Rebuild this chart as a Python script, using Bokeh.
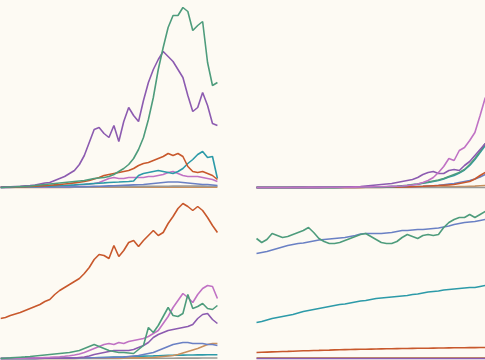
from bokeh.plotting import figure
from bokeh.layouts import gridplot
from bokeh.models import Range1d, GlobalInlineStyleSheet
from bokeh.embed import file_html
from bokeh.resources import INLINE

BG = "#fdfaf3"
COLORS = {
    "gray": "#9c9a96", "tan": "#c8905e", "blue": "#6a80c4", "pink": "#c072c4",
    "teal": "#2c9aa8", "orange": "#c8582c", "purple": "#8c5bb0", "green": "#4e9c7c",
}

steps = list(range(45))

# ---- top-left panel ----
tl_tan = [0.1, 0.1, 0.1, 0.1, 0.1, 0.1, 0.1, 0.1, 0.1, 0.1, 0.1, 0.1, 0.1, 0.1, 0.1,
          0.2, 0.2, 0.2, 0.2, 0.2, 0.2, 0.2, 0.2, 0.2, 0.2, 0.3, 0.3, 0.3, 0.3, 0.3,
          0.3, 0.3, 0.3, 0.3, 0.4, 0.4, 0.4, 0.4, 0.4, 0.4, 0.4, 0.4, 0.4, 0.4, 0.4]
tl_gray = [0.3, 0.3, 0.3, 0.3, 0.3, 0.4, 0.4, 0.4, 0.4, 0.4, 0.5, 0.5, 0.5, 0.5, 0.5,
           0.6, 0.6, 0.6, 0.6, 0.7, 0.7, 0.7, 0.8, 0.8, 0.8, 0.9, 0.9, 1, 1, 1.1,
           1.1, 1.2, 1.2, 1.3, 1.3, 1.4, 1.4, 1.5, 1.5, 1.5, 1.4, 1.4, 1.3, 1.3, 1.2]
tl_blue = [0.1, 0.1, 0.1, 0.2, 0.2, 0.2, 0.3, 0.3, 0.3, 0.4, 0.4, 0.5, 0.5, 0.6, 0.6,
           0.7, 0.8, 0.9, 1, 1.1, 1.2, 1.4, 1.6, 1.8, 2, 2.2, 2.4, 2.6, 2.8, 3,
           3.5, 4, 4.5, 5, 5.5, 5.5, 5.5, 5, 4.5, 4, 3.5, 3, 3, 2.5, 2]
tl_pink = [0.1, 0.15, 0.2, 0.3, 0.4, 0.5, 0.6, 0.7, 0.8, 0.9, 1, 1.2, 1.4, 1.7, 2,
           2.3, 2.7, 3, 3.5, 4, 5, 7, 9, 10, 9, 9, 10, 10, 10, 10,
           11, 11, 12, 13, 15, 16, 14, 12, 11, 11, 11, 10, 9, 8, 6]
tl_teal = [0.1, 0.2, 0.3, 0.4, 0.5, 0.6, 0.7, 0.8, 1, 1.2, 1.4, 1.6, 1.8, 2, 2.3,
           2.6, 3, 3.3, 3.6, 4, 4.3, 4.6, 5, 5.3, 5.5, 5.8, 6, 6.5, 12, 14,
           15, 16, 17, 16, 15, 14, 16, 19, 24, 28, 33, 36, 30, 31, 9]
tl_orange = [0.2, 0.3, 0.4, 0.5, 0.7, 0.9, 1.1, 1.3, 1.6, 1.9, 2.2, 2.6, 3, 3.5, 4,
             4.6, 5.2, 6, 7, 8.5, 10, 12, 13, 14, 15, 16, 17, 19, 22, 24,
             25, 27, 29, 31, 34, 32, 34, 31, 21, 16, 15, 16, 14, 12, 8]
tl_purple = [0.3, 0.5, 0.7, 1, 1.3, 1.7, 2, 2.5, 3.5, 4.5, 5, 7, 9, 11, 14,
             17, 23, 32, 45, 58, 60, 54, 50, 62, 46, 66, 80, 72, 66, 87,
             105, 118, 128, 136, 131, 126, 118, 110, 92, 76, 80, 95, 82, 64, 62]
tl_green = [0, 0.3, 0.5, 0.7, 1, 1.2, 1.5, 2, 2.5, 3, 3.5, 4, 4.5, 5, 5.5,
            6, 6.5, 7, 8, 9, 9.5, 10, 11, 13, 16, 19, 23, 29, 38, 50,
            68, 90, 118, 140, 160, 172, 172, 180, 176, 157, 162, 166, 125, 102, 105]

# ---- top-right panel ----
tr_gray = [0, 0, 0, 0, 0, 0, 0, 0, 0, 0, 0, 0, 0, 0, 0, 0, 0, 0, 0, 0, 0, 0, 0,
           0, 0, 0, 0, 0, 0, 0, 0, 0, 0, 0, 0, 0, 0, 0, 0, 0, 0, 0, 0, 0, 0]
tr_tan = [0, 0, 0, 0, 0, 0, 0, 0, 0, 0, 0, 0, 0, 0, 0, 0, 0, 0, 0, 0, 0.1, 0.1, 0.1,
          0.1, 0.1, 0.2, 0.2, 0.2, 0.2, 0.3, 0.3, 0.3, 0.4, 0.4, 0.5, 0.5, 0.6, 0.7,
          0.8, 0.9, 1, 1.2, 1.4, 1.7, 2]
tr_blue = [0, 0, 0, 0, 0, 0, 0, 0, 0, 0, 0, 0, 0, 0, 0,
           0.1, 0.1, 0.1, 0.1, 0.1, 0.2, 0.2, 0.2, 0.3, 0.3, 0.4, 0.4, 0.5, 0.6, 0.7,
           0.8, 1, 1.2, 1.5, 1.8, 2.2, 2.8, 3.4, 4, 5, 6, 7, 8.5, 10.5, 13]
tr_orange = [0, 0, 0, 0, 0, 0, 0, 0, 0, 0, 0, 0, 0, 0, 0,
             0, 0.1, 0.1, 0.1, 0.1, 0.1, 0.2, 0.2, 0.2, 0.3, 0.3, 0.4, 0.4, 0.5, 0.6,
             0.8, 1, 1.2, 1.5, 1.8, 2, 2.3, 2.6, 3, 4, 5, 6, 8.5, 12, 15]
tr_teal = [0, 0, 0, 0, 0, 0, 0, 0, 0, 0, 0, 0, 0.1, 0.1, 0.1,
           0.1, 0.1, 0.2, 0.2, 0.2, 0.3, 0.3, 0.4, 0.5, 0.6, 0.7, 0.9, 1.1, 1.6, 2,
           2.7, 3.2, 4.2, 5, 6, 7, 8.5, 10.5, 12, 14.5, 17.5, 22, 28, 35, 42]
tr_green = [0, 0, 0, 0, 0, 0, 0, 0, 0, 0, 0, 0.1, 0.1, 0.1, 0.1,
            0.1, 0.2, 0.2, 0.2, 0.3, 0.3, 0.4, 0.4, 0.5, 0.6, 0.8, 1, 1.2, 1.8, 2.2,
            3, 3.5, 4.5, 5.5, 6.5, 7.5, 9, 11, 13, 15, 18, 23, 29, 36, 44]
tr_purple = [0, 0, 0, 0, 0, 0, 0, 0.1, 0.1, 0.1, 0.1, 0.1, 0.1, 0.2, 0.2,
             0.2, 0.3, 0.4, 0.6, 0.8, 1, 1.5, 2, 2.5, 3, 3.5, 4, 5, 6, 7,
             8, 10, 13, 15, 16, 14, 14, 17, 18, 17, 22, 26, 32, 38, 44]
tr_pink = [0, 0, 0, 0, 0, 0, 0, 0, 0, 0, 0.1, 0.1, 0.1, 0.1, 0.2,
           0.2, 0.2, 0.3, 0.3, 0.4, 0.5, 0.5, 0.6, 0.7, 0.8, 1, 1.1, 1.2, 1.5, 2,
           2.5, 3.5, 5, 7, 10, 15, 21, 29, 27, 37, 40, 47, 55, 72, 90]

# ---- bottom-left panel ----
bl_gray = [0, 0, 0, 0, 0, 0, 0, 0, 0, 0, 0, 0, 0, 0, 0, 0.1, 0.1, 0.1, 0.1, 0.1, 0.1,
           0.1, 0.1, 0.1, 0.1, 0.2, 0.2, 0.2, 0.2, 0.2, 0.2, 0.3, 0.3, 0.3, 0.3, 0.3,
           0.4, 0.4, 0.4, 0.4, 0.4, 0.5, 0.5, 0.5, 0.5]
bl_teal = [0, 0, 0, 0, 0.1, 0.1, 0.1, 0.1, 0.2, 0.2, 0.2, 0.3, 0.3, 0.4, 0.4,
           0.5, 0.5, 0.6, 0.7, 0.8, 0.9, 1, 1.2, 1.4, 1.5, 1.6, 1.8, 2, 2.2, 2.4,
           2.5, 2.6, 2.8, 3, 3.1, 3.2, 3.3, 3.4, 3.5, 3.5, 3.6, 3.6, 3.7, 3.8, 3.8]
bl_tan = [0, 0, 0, 0, 0, 0, 0, 0, 0, 0, 0, 0.1, 0.1, 0.1, 0.1,
          0.1, 0.2, 0.2, 0.2, 0.2, 0.3, 0.3, 0.3, 0.4, 0.4, 0.5, 0.5, 0.6, 0.6, 0.7,
          0.8, 1, 1.5, 2, 2.5, 3, 4, 5.5, 7, 8.5, 10, 12, 14, 15, 15]
bl_blue = [0, 0, 0, 0, 0.1, 0.1, 0.1, 0.1, 0.2, 0.2, 0.2, 0.3, 0.3, 0.3, 0.4,
           0.4, 0.5, 0.5, 0.6, 0.7, 0.8, 0.9, 1, 1.1, 1.2, 1.4, 2, 2.5, 3, 4,
           5, 6, 8, 10, 12, 14, 15, 16, 16, 15, 15, 15, 14, 14, 13]
bl_purple = [0, 0, 0, 0, 0, 0.1, 0.1, 0.1, 0.1, 0.2, 0.2, 0.2, 0.3, 0.3, 0.4,
             0.5, 1, 1.5, 2.5, 4, 5, 6, 7, 8, 8, 8, 8, 9, 11, 13,
             16, 21, 24, 26, 28, 29, 30, 31, 32, 34, 40, 44, 45, 39, 35]
bl_pink = [0, 0, 0.1, 0.2, 0.3, 0.4, 0.5, 0.6, 0.8, 1, 1.2, 1.5, 1.8, 2.2, 2.8,
           3.5, 4.5, 6, 8, 10, 12, 14, 15, 14, 16, 15, 17, 18, 19, 20,
           22, 25, 28, 35, 42, 51, 58, 65, 61, 56, 64, 70, 73, 72, 60]
bl_green = [0, 0.3, 0.6, 1, 1.3, 1.6, 2, 2.5, 3, 3.5, 4, 4.5, 5, 5.5, 6,
            7, 8, 10, 12, 14, 12, 10, 8, 7, 6, 6, 5.5, 5, 9, 13,
            31, 26, 33, 42, 51, 43, 42, 45, 64, 50, 52, 55, 50, 49, 53]
bl_orange = [40, 41, 43, 44.5, 46, 48, 50, 52, 54, 57, 59, 64, 68, 71, 74,
             77, 80, 85, 91, 99, 104, 103, 100, 113, 102, 108, 116, 118, 112, 118,
             123, 128, 123, 126, 135, 142, 150, 155, 152, 148, 152, 148, 141, 133, 126]

# ---- bottom-right panel ----
br_tan = [0.6, 0.6, 0.6, 0.6, 0.6, 0.6, 0.6, 0.6, 0.6, 0.6, 0.6, 0.6, 0.6, 0.6, 0.6,
          0.6, 0.6, 0.6, 0.6, 0.6, 0.6, 0.6, 0.6, 0.6, 0.6, 0.6, 0.6, 0.6, 0.6, 0.6,
          0.6, 0.6, 0.6, 0.6, 0.6, 0.6, 0.6, 0.6, 0.6, 0.6, 0.6, 0.6, 0.6, 0.6, 0.6]
br_purple = [0, 0, 0, 0, 0, 0, 0, 0, 0, 0, 0, 0, 0, 0, 0, 0, 0, 0, 0, 0, 0, 0, 0,
             0, 0, 0, 0, 0, 0, 0, 0, 0, 0, 0, 0, 0, 0, 0, 0, 0, 0, 0, 0, 0, 0]
br_orange = [6, 6.2, 6.4, 6.6, 6.8, 7, 7.1, 7.3, 7.5, 7.7, 7.8, 8, 8.1, 8.3, 8.4,
             8.6, 8.7, 8.9, 9, 9.1, 9.2, 9.3, 9.4, 9.5, 9.6, 9.7, 9.8, 9.9, 10, 10,
             10.1, 10.2, 10.3, 10.3, 10.4, 10.5, 10.5, 10.6, 10.7, 10.7, 10.8, 10.9, 10.9, 11, 11]
br_teal = [36, 37, 38.5, 40, 41, 42, 43, 44, 45.5, 47, 48, 49, 50, 51, 52,
           53, 54, 54.5, 55.5, 56.5, 57.5, 58, 59, 60, 60.5, 61, 61.5, 62, 62.5, 63,
           64, 64.5, 65.5, 66.5, 67, 67.5, 68.5, 69, 69.5, 70, 70.5, 71, 71, 72, 73]
br_blue = [105, 106, 107, 108.5, 110, 111.5, 113, 114, 115, 115.5, 116.5, 117.5, 118.5, 119, 119.5,
           120, 120.5, 121, 122, 123, 124.5, 125, 125, 125, 125, 125.5, 126, 127, 128, 128,
           128.5, 129, 129, 129.5, 130, 130.5, 131.5, 132.5, 134, 135, 136, 136.5, 137, 138, 139]
br_green = [120, 116, 119, 125, 123, 121, 122, 124, 126, 128, 131, 126, 120, 117, 115,
            115, 116, 118, 120, 122, 124, 125, 122, 119, 116, 115, 115, 117, 121, 124,
            122, 120, 123, 124, 123, 124, 131, 136, 139, 141, 141, 144, 141, 144, 147]


def panel(w, h, xr, yr, series):
    p = figure(width=w, height=h, x_range=Range1d(*xr), y_range=Range1d(*yr),
               output_backend="svg", toolbar_location=None,
               x_axis_location=None, y_axis_location=None, min_border=0,
               background_fill_color=BG, border_fill_color=BG, outline_line_color=None)
    p.grid.visible = False
    for name, ys in series:
        p.line(steps, ys, line_color=COLORS[name], line_width=1.6)
    return p


LX = (0.0, 47.87)
RX = (-3.85, 44.04)
TY = (-8, 187)
BY = (-2, 163)

p_tl = panel(236, 195, LX, TY, [("tan", tl_tan), ("gray", tl_gray), ("blue", tl_blue),
                                ("pink", tl_pink), ("teal", tl_teal), ("orange", tl_orange),
                                ("purple", tl_purple), ("green", tl_green)])
p_tr = panel(249, 195, RX, TY, [("tan", tr_tan), ("gray", tr_gray), ("blue", tr_blue),
                                ("orange", tr_orange), ("teal", tr_teal), ("green", tr_green),
                                ("purple", tr_purple), ("pink", tr_pink)])
p_bl = panel(236, 165, LX, BY, [("gray", bl_gray), ("teal", bl_teal), ("tan", bl_tan),
                                ("blue", bl_blue), ("purple", bl_purple), ("pink", bl_pink),
                                ("green", bl_green), ("orange", bl_orange)])
p_br = panel(249, 165, RX, BY, [("tan", br_tan), ("purple", br_purple), ("orange", br_orange),
                                ("teal", br_teal), ("blue", br_blue), ("green", br_green)])

grid = gridplot([[p_tl, p_tr], [p_bl, p_br]], toolbar_location=None)
grid.stylesheets = [GlobalInlineStyleSheet(css="body { background: #fdfaf3; }")]

open("out.html", "w").write(file_html(grid, INLINE))
